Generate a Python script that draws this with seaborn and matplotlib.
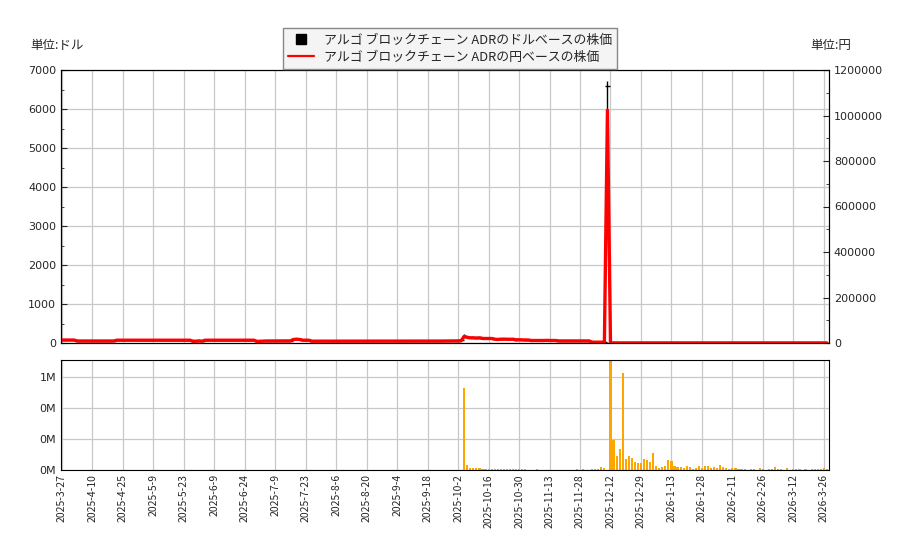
import matplotlib
matplotlib.use("Agg")
import numpy as np
import pandas as pd
import matplotlib.pyplot as plt
import seaborn as sns
from matplotlib.lines import Line2D
from matplotlib.ticker import MultipleLocator, FuncFormatter

# date labels shown every 10 trading days
tick_labels = ['2025-3-27', '2025-4-10', '2025-4-25', '2025-5-9', '2025-5-23', '2025-6-9',
               '2025-6-24', '2025-7-9', '2025-7-23', '2025-8-6', '2025-8-20', '2025-9-4',
               '2025-9-18', '2025-10-2', '2025-10-16', '2025-10-30', '2025-11-13', '2025-11-28',
               '2025-12-12', '2025-12-29', '2026-1-13', '2026-1-28', '2026-2-11', '2026-2-26',
               '2026-3-12', '2026-3-26']

# daily close in USD (one row = 10 trading days)
usd_close = [
    84, 84, 84, 84, 84, 57, 57, 57, 57, 57,
    57, 57, 57, 57, 57, 57, 57, 57, 79, 79,
    79, 79, 79, 79, 79, 79, 79, 79, 79, 79,
    79, 79, 79, 79, 79, 79, 79, 79, 79, 79,
    79, 79, 79, 51, 51, 60, 51, 79, 79, 79,
    79, 79, 79, 79, 79, 79, 79, 79, 79, 79,
    79, 79, 79, 79, 45, 50, 57, 57, 57, 57,
    57, 57, 57, 57, 57, 60, 100, 108, 100, 79,
    79, 79, 52, 52, 52, 52, 52, 52, 52, 52,
    52, 52, 52, 52, 52, 52, 52, 52, 52, 52,
    52, 52, 52, 52, 52, 52, 52, 52, 52, 52,
    52, 52, 52, 52, 52, 52, 52, 52, 52, 52,
    55, 55, 55, 55, 55, 57, 57, 57, 57, 57,
    60, 65, 185, 160, 145, 145, 140, 145, 128, 128,
    125, 128, 108, 100, 108, 110, 108, 105, 108, 88,
    92, 88, 88, 85, 71, 71, 68, 71, 71, 75,
    71, 71, 71, 59, 59, 59, 59, 59, 59, 59,
    59, 59, 59, 59, 23, 23, 23, 23, 23, 6600,
    3, 3, 3, 3, 3, 3, 3, 3, 3, 3,
    3, 3, 3, 3, 3, 3, 3, 3, 3, 3,
    3, 3, 3, 3, 3, 3, 3, 3, 3, 3,
    3, 3, 3, 3, 3, 3, 3, 3, 3, 3,
    3, 3, 3, 3, 3, 3, 3, 3, 3, 3,
    3, 3, 3, 3, 3, 3, 3, 3, 3, 3,
    3, 3, 3, 3, 3, 3, 3, 3, 3, 3,
    3, 3,
]

# days where the candle wick shows (index: (low, high))
usd_wicks = {43: (5, 80), 64: (10, 60), 77: (90, 125), 132: (150, 225),
             137: (130, 160), 149: (85, 120), 179: (5900, 6720)}

usd_jpy = 155

# daily volume in millions of shares
volume_m = [
    0, 0, 0, 0, 0, 0, 0, 0, 0, 0,
    0, 0, 0, 0, 0, 0, 0, 0, 0, 0,
    0, 0, 0, 0, 0, 0, 0, 0, 0, 0,
    0, 0, 0, 0, 0, 0, 0, 0, 0, 0,
    0, 0, 0, 0, 0, 0, 0, 0, 0, 0,
    0, 0, 0, 0, 0, 0, 0, 0, 0, 0,
    0, 0, 0, 0, 0, 0, 0, 0, 0, 0,
    0, 0, 0, 0, 0, 0, 0, 0, 0, 0,
    0, 0, 0, 0, 0, 0, 0, 0, 0, 0,
    0, 0, 0, 0, 0, 0, 0, 0, 0, 0,
    0, 0, 0, 0, 0, 0, 0, 0, 0, 0,
    0, 0, 0, 0, 0, 0, 0, 0, 0, 0,
    0, 0, 0, 0, 0, 0, 0, 0, 0, 0,
    0, 0, 0.531, 0.032, 0.013, 0.013, 0.013, 0.013, 0.006, 0.006,
    0.006, 0.006, 0.006, 0.006, 0.006, 0.006, 0.006, 0.006, 0.006, 0.006,
    0.006, 0.006, 0.006, 0, 0, 0, 0.006, 0, 0, 0,
    0, 0, 0, 0, 0, 0, 0, 0, 0, 0.006,
    0, 0.006, 0, 0, 0.006, 0.006, 0.006, 0.019, 0.013, 0,
    1.0, 0.194, 0.090, 0.135, 0.626, 0.071, 0.090, 0.077, 0.052, 0.045,
    0.045, 0.071, 0.065, 0.052, 0.110, 0.026, 0.013, 0.019, 0.026, 0.065,
    0.058, 0.026, 0.019, 0.019, 0.013, 0.026, 0.019, 0.006, 0.013, 0.026,
    0.013, 0.026, 0.026, 0.013, 0.019, 0.013, 0.032, 0.019, 0.013, 0.006,
    0.013, 0.013, 0.006, 0.006, 0.006, 0, 0.006, 0.006, 0, 0.013,
    0.006, 0, 0.006, 0.006, 0.019, 0.006, 0.006, 0, 0.013, 0,
    0.006, 0.006, 0.006, 0, 0.006, 0, 0.006, 0.006, 0.006, 0.006,
    0.013, 0.006,
]

df = pd.DataFrame({'usd': usd_close, 'vol': volume_m})
df['idx'] = np.arange(len(df))
df['jpy'] = df['usd'] * usd_jpy

sns.set_style("white")
plt.rcParams['font.family'] = ['DejaVu Sans', 'Noto Sans CJK JP']
jp = ['Noto Sans CJK JP', 'DejaVu Sans']

fig = plt.figure(figsize=(9, 5.5), dpi=100)
ax = fig.add_axes([61 / 900, 1 - 343 / 550, 768 / 900, 273 / 550])
axv = fig.add_axes([61 / 900, 1 - 470 / 550, 768 / 900, 110 / 550], sharex=ax)
ax2 = ax.twinx()

grid_kw = dict(color='#c8c8c8', linewidth=0.9)

# candles in USD (black, mostly under the yen line)
for i, c in enumerate(usd_close):
    lo, hi = usd_wicks.get(i, (c, c))
    ax.vlines(i, lo, hi, color='black', linewidth=1)
    ax.hlines(c, i - 0.8, i + 0.8, color='black', linewidth=1)

# yen line
sns.lineplot(data=df, x='idx', y='jpy', ax=ax2, color='red', linewidth=2.4, legend=False)

ax.set_xlim(-0.3, 251.7)
ax.set_ylim(0, 7000)
ax2.set_ylim(0, 1200000)
ax.yaxis.set_major_locator(MultipleLocator(1000))
ax.yaxis.set_minor_locator(MultipleLocator(500))
ax2.yaxis.set_major_locator(MultipleLocator(200000))
ax2.yaxis.set_minor_locator(MultipleLocator(100000))
ax2.yaxis.set_major_formatter(FuncFormatter(lambda v, p: f'{v:.0f}'))
ax.set_xticks(np.arange(0, 251, 10))
ax.grid(True, **grid_kw)
ax.set_axisbelow(True)
ax.tick_params(axis='x', labelbottom=False, direction='in', length=5)
ax.tick_params(axis='y', direction='in', labelsize=8, length=4)
ax.tick_params(axis='y', which='minor', direction='in', length=2)
ax2.tick_params(axis='y', direction='in', labelsize=8, length=4)
ax2.tick_params(axis='y', which='minor', direction='in', length=2)
ax.set_ylabel('')
ax2.set_ylabel('')
ax2.set_xlabel('')
for a in (ax, ax2, axv):
    for s in a.spines.values():
        s.set_color('black')

# volume
axv.bar(df['idx'], df['vol'] * 1e6, width=0.7, color='orange', linewidth=0)
axv.set_ylim(0, 710000)
axv.yaxis.set_major_locator(MultipleLocator(200000))
axv.yaxis.set_minor_locator(MultipleLocator(40000))
axv.yaxis.set_major_formatter(FuncFormatter(lambda v, p: f'{v / 1e6:.0f}M'))
axv.grid(True, **grid_kw)
axv.set_axisbelow(True)
axv.set_xticks(np.arange(0, 251, 10))
axv.set_xticklabels(tick_labels, rotation=90, fontsize=7.5, family=jp)
axv.tick_params(axis='x', direction='in', length=5, pad=3)
axv.tick_params(axis='y', direction='in', labelsize=8, length=4)
axv.tick_params(axis='y', which='minor', direction='in', length=2)

fig.text(57 / 900, 1 - 46 / 550, '単位:ドル', ha='center', va='center', fontsize=9, family=jp)
fig.text(831 / 900, 1 - 46 / 550, '単位:円', ha='center', va='center', fontsize=9, family=jp)

handles = [Line2D([], [], marker='s', color='black', linestyle='none', markersize=7),
           Line2D([], [], color='red', linewidth=1.6)]
names = ['アルゴ ブロックチェーン ADRのドルベースの株価', 'アルゴ ブロックチェーン ADRの円ベースの株価']
leg = fig.legend(handles, names, loc='upper center', bbox_to_anchor=(0.5, 1 - 22 / 550),
                 prop={'family': jp, 'size': 9.3}, fancybox=False, framealpha=1,
                 facecolor='#f4f4f4', edgecolor='#888888', borderpad=0.4, labelspacing=0.3)

fig.savefig('out.png', dpi=100)
